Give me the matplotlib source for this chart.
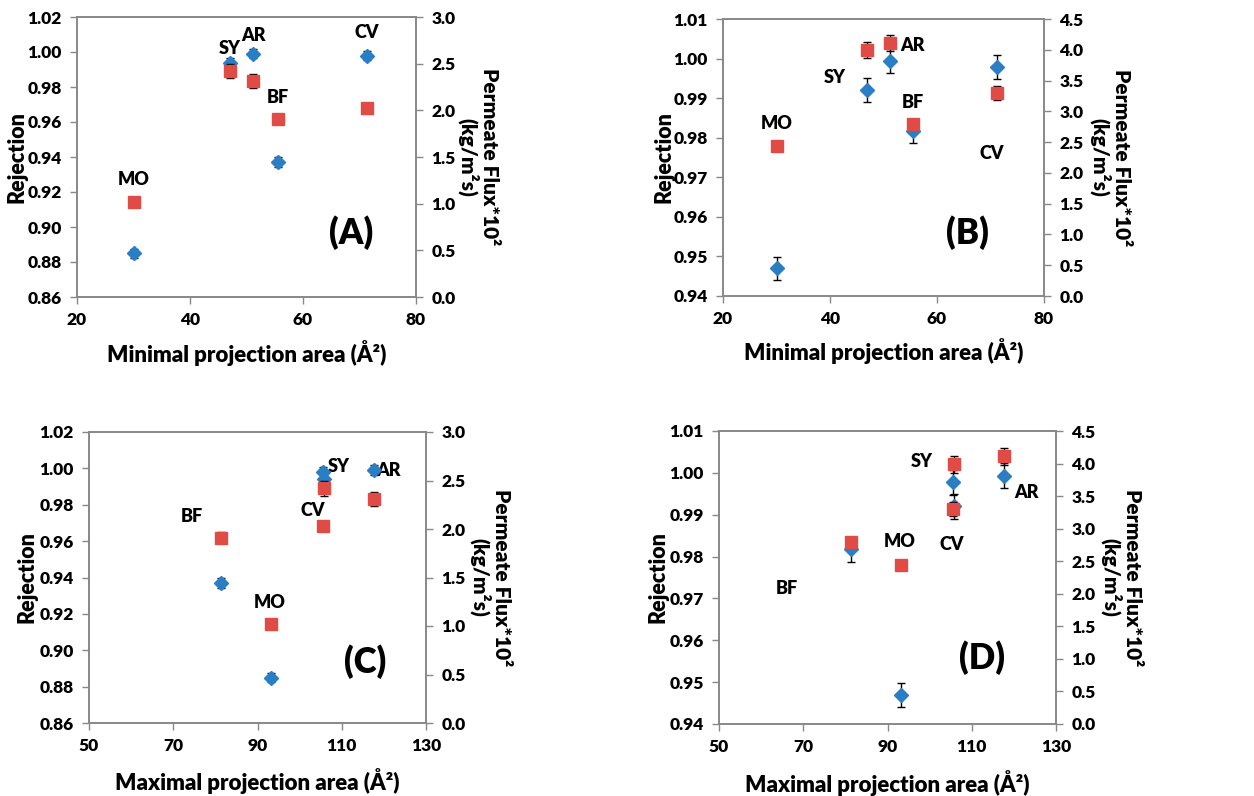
import matplotlib
matplotlib.use('Agg')
import matplotlib.pyplot as plt

plt.rcParams['font.family'] = ['Lato', 'DejaVu Sans']
plt.rcParams['font.weight'] = 'heavy'

dyes = ['MO', 'SY', 'AR', 'BF', 'CV']
min_area = [30.0, 47.0, 51.2, 55.6, 71.3]
max_area = [93.2, 105.8, 117.6, 81.3, 105.6]

# membrane 1 (panels A, C)
rej1 = [0.885, 0.994, 0.999, 0.937, 0.998]
rej1_err = [0.0025, 0.0027, 0.0027, 0.0028, 0.0027]
flux1 = [1.02, 2.42, 2.31, 1.91, 2.03]
flux1_err = [0.02, 0.075, 0.075, 0.056, 0.04]

# membrane 2 (panels B, D)
rej2 = [0.947, 0.992, 0.9993, 0.9817, 0.9978]
rej2_err = [0.0029, 0.003, 0.003, 0.003, 0.003]
flux2 = [2.44, 3.99, 4.11, 2.80, 3.30]
flux2_err = [0.06, 0.13, 0.13, 0.064, 0.11]

# dye label positions (x, rejection) for each panel
lab_a = [(30, 0.927), (47, 1.002), (51.2, 1.0097), (55.6, 0.974), (71.3, 1.011)]
lab_b = [(30, 0.9837), (40.9, 0.9953), (55.5, 1.0034), (55.5, 0.9888), (70.3, 0.9761)]
lab_c = [(93, 0.9265), (109.3, 1.0013), (121, 0.9991), (74.5, 0.9733), (103.2, 0.9771)]
lab_d = [(93, 0.9835), (98.2, 1.0026), (122.9, 0.9952), (66.1, 0.9723), (105.3, 0.9828)]

W, H = 1254, 796
fig = plt.figure(figsize=(W / 100, H / 100), dpi=100)

blue = '#2A7EC4'
red = '#E04B45'
spine = '#888888'


def panel(box, x, rej, rej_err, flux, flux_err, xlim, xticks, ylim, yticks, fmax, fticks,
          labels, xlabel, tag, tagpos, llab_x, rlab_x):
    l, t, r, b = box
    ax = fig.add_axes([l / W, 1 - b / H, (r - l) / W, (b - t) / H])
    ax.errorbar(x, rej, yerr=rej_err, fmt='D', color=blue, ms=7.5, ecolor='black',
                elinewidth=1, capsize=3, zorder=3)
    ax.set_xlim(*xlim)
    ax.set_ylim(*ylim)
    ax.set_xticks(xticks)
    ax.set_yticks(yticks)
    ax.set_yticklabels(['%.2f' % v for v in yticks])
    ax.set_xlabel(xlabel, fontsize=16, fontweight='heavy')
    ax.set_ylabel('Rejection', fontsize=15.5, fontweight='heavy')
    ax.xaxis.set_label_coords(0.5, -0.2)
    ax.xaxis.label.set(va='center', ha='center')
    ax.yaxis.set_label_coords(llab_x, 0.5)
    ax.yaxis.label.set(va='center', ha='center')
    for name, (lx, ly) in zip(dyes, labels):
        ax.text(lx, ly, name, ha='center', va='center', fontsize=13, fontweight='heavy')
    ax.text(tagpos[0], tagpos[1], tag, transform=ax.transAxes, ha='center', va='center',
            fontsize=25, fontweight='heavy')

    ax2 = ax.twinx()
    ax2.errorbar(x, flux, yerr=flux_err, fmt='s', color=red, ms=8, ecolor='black',
                 elinewidth=1, capsize=3, zorder=3)
    ax2.set_ylim(0, fmax)
    ax2.set_yticks(fticks)
    ax2.set_yticklabels(['%.1f' % v for v in fticks])
    ax2.set_ylabel('Permeate Flux*10²\n(kg/m²s)', rotation=270, fontsize=15,
                   fontweight='heavy', linespacing=1.1)
    ax2.yaxis.set_label_coords(rlab_x, 0.5)
    ax2.yaxis.label.set(va='center', ha='center')

    for a in (ax, ax2):
        for s in a.spines.values():
            s.set_color(spine)
            s.set_linewidth(1.2)
        a.tick_params(direction='out', length=5, width=1, color=spine,
                      labelsize=12.5, pad=6)
        for lab in a.get_xticklabels() + a.get_yticklabels():
            lab.set_fontweight('heavy')
    return ax


panel((77, 17, 416, 297), min_area, rej1, rej1_err, flux1, flux1_err,
      (20, 80), [20, 40, 60, 80], (0.86, 1.02), [0.86, 0.88, 0.90, 0.92, 0.94, 0.96, 0.98, 1.00, 1.02],
      3.0, [0.0, 0.5, 1.0, 1.5, 2.0, 2.5, 3.0], lab_a,
      'Minimal projection area (Å²)', '(A)', (0.81, 0.23), -0.177, 1.183)

panel((723, 19, 1044, 296), min_area, rej2, rej2_err, flux2, flux2_err,
      (20, 80), [20, 40, 60, 80], (0.94, 1.01), [0.94, 0.95, 0.96, 0.97, 0.98, 0.99, 1.00, 1.01],
      4.5, [0.0, 0.5, 1.0, 1.5, 2.0, 2.5, 3.0, 3.5, 4.0, 4.5], lab_b,
      'Minimal projection area (Å²)', '(B)', (0.76, 0.23), -0.185, 1.206)

panel((89, 432, 426, 723), max_area, rej1, rej1_err, flux1, flux1_err,
      (50, 130), [50, 70, 90, 110, 130], (0.86, 1.02), [0.86, 0.88, 0.90, 0.92, 0.94, 0.96, 0.98, 1.00, 1.02],
      3.0, [0.0, 0.5, 1.0, 1.5, 2.0, 2.5, 3.0], lab_c,
      'Maximal projection area (Å²)', '(C)', (0.82, 0.21), -0.184, 1.19)

panel((719, 431, 1056, 724), max_area, rej2, rej2_err, flux2, flux2_err,
      (50, 130), [50, 70, 90, 110, 130], (0.94, 1.01), [0.94, 0.95, 0.96, 0.97, 0.98, 0.99, 1.00, 1.01],
      4.5, [0.0, 0.5, 1.0, 1.5, 2.0, 2.5, 3.0, 3.5, 4.0, 4.5], lab_d,
      'Maximal projection area (Å²)', '(D)', (0.78, 0.225), -0.182, 1.193)

fig.savefig('out.png', dpi=100)
